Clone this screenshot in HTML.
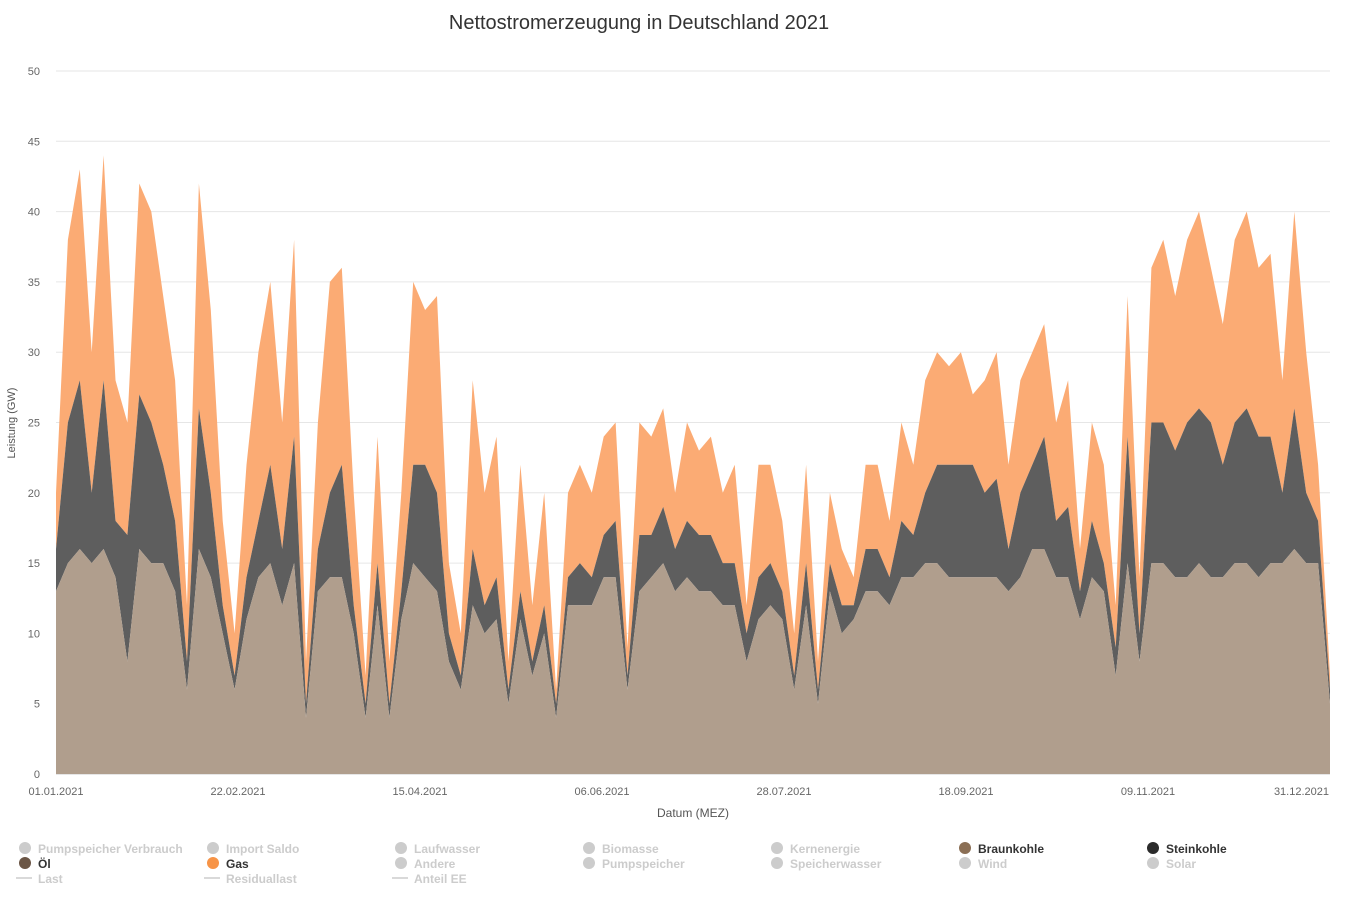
<!DOCTYPE html>
<html><head><meta charset="utf-8"><style>
body{margin:0;background:#fff;font-family:"Liberation Sans",sans-serif;}
svg text{font-family:"Liberation Sans",sans-serif;}
</style></head><body>
<svg id="chart" width="1353" height="905" xmlns="http://www.w3.org/2000/svg">
<text x="639" y="29" text-anchor="middle" font-size="20" fill="#333">Nettostromerzeugung in Deutschland 2021</text>
<g id="grid"></g><g id="areas"></g><g id="axes"></g><g id="legend"></g>
</svg>
<script>
const braun=[13,15,16,15,16,14,8,16,15,15,13,6,16,14,10,6,11,14,15,12,15,4,13,14,14,10,4,12,4,11,15,14,13,8,6,12,10,11,5,11,7,10,4,12,12,12,14,14,6,13,14,15,13,14,13,13,12,12,8,11,12,11,6,12,5,13,10,11,13,13,12,14,14,15,15,14,14,14,14,14,13,14,16,16,14,14,11,14,13,7,15,8,15,15,14,14,15,14,14,15,15,14,15,15,16,15,15,5];
const stein=[16,25,28,20,28,18,17,27,25,22,18,8,26,20,12,7,14,18,22,16,24,5,16,20,22,12,5,15,5,13,22,22,20,10,7,16,12,14,6,13,8,12,5,14,15,14,17,18,7,17,17,19,16,18,17,17,15,15,10,14,15,13,7,15,6,15,12,12,16,16,14,18,17,20,22,22,22,22,20,21,16,20,22,24,18,19,13,18,15,9,24,10,25,25,23,25,26,25,22,25,26,24,24,20,26,20,18,6];
const gas=[20,38,43,30,44,28,25,42,40,34,28,12,42,33,18,10,22,30,35,25,38,8,25,35,36,20,7,24,8,20,35,33,34,15,10,28,20,24,8,22,12,20,6,20,22,20,24,25,9,25,24,26,20,25,23,24,20,22,12,22,22,18,10,22,8,20,16,14,22,22,18,25,22,28,30,29,30,27,28,30,22,28,30,32,25,28,16,25,22,12,34,14,36,38,34,38,40,36,32,38,40,36,37,28,40,30,22,7];
const yTicks=[0,5,10,15,20,25,30,35,40,45,50];
const xLabels=["01.01.2021","22.02.2021","15.04.2021","06.06.2021","28.07.2021","18.09.2021","09.11.2021","31.12.2021"];
const xLabelDays=[0,52,104,156,208,260,312,364];
const NS="http://www.w3.org/2000/svg";
const X0=56,X1=1330,Y0=774,Y50=71;
const xs=d=>X0+(X1-X0)*d/364;
const ys=v=>Y0-(Y0-Y50)*v/50;
const dayOf=i=>i*364/(gas.length-1);
function mk(t,a,p){const e=document.createElementNS(NS,t);for(const k in a)e.setAttribute(k,a[k]);(p||document.getElementById('chart')).appendChild(e);return e;}
const grid=document.getElementById('grid');
yTicks.forEach(v=>{
 const l=mk('line',{x1:X0,x2:X1,y1:ys(v),y2:ys(v),stroke:v===0?'#ccc':'#e6e6e6'},grid);
 
 
 const t=mk('text',{x:40,y:ys(v)+4,'text-anchor':'end','font-size':11,fill:'#666'},grid);
 t.textContent=v;
 
 
});
const areas=document.getElementById('areas');
function area(top,bottom,color,name){
 let d='';
 top.forEach((v,i)=>{d+=(i?'L':'M')+xs(dayOf(i)).toFixed(1)+','+ys(v).toFixed(1);});
 for(let i=top.length-1;i>=0;i--){const b=bottom?bottom[i]:0;d+='L'+xs(dayOf(i)).toFixed(1)+','+ys(b).toFixed(1);}
 const p=mk('path',{d:d+'Z',fill:color},areas);
 
 
}
area(gas,stein,'#fbab74','area-gas');
area(stein,braun,'#5e5e5e','area-steinkohle');
area(braun,null,'#b09e8d','area-braunkohle');
const axes=document.getElementById('axes');
xLabels.forEach((s,i)=>{
 const last=i===xLabels.length-1;
 const t=mk('text',{x:last?X1-1:xs(xLabelDays[i]),y:795,'text-anchor':last?'end':'middle','font-size':11,fill:'#666'},axes);
 t.textContent=s;
 
 
});
const xt=mk('text',{x:693,y:817,'text-anchor':'middle','font-size':12,fill:'#555'},axes);
xt.textContent='Datum (MEZ)';


const yt=mk('text',{x:15,y:423,'text-anchor':'middle','font-size':11,fill:'#555',transform:'rotate(-90 15 423)'},axes);
yt.textContent='Leistung (GW)';


const legendItems=[
 ["Pumpspeicher Verbrauch",0,0,'#ccc',0,'c'],["Import Saldo",1,0,'#ccc',0,'c'],["Laufwasser",2,0,'#ccc',0,'c'],["Biomasse",3,0,'#ccc',0,'c'],["Kernenergie",4,0,'#ccc',0,'c'],["Braunkohle",5,0,'#8b6f55',1,'c'],["Steinkohle",6,0,'#2b2b2b',1,'c'],
 ["Öl",0,1,'#6b5646',1,'c'],["Gas",1,1,'#f79447',1,'c'],["Andere",2,1,'#ccc',0,'c'],["Pumpspeicher",3,1,'#ccc',0,'c'],["Speicherwasser",4,1,'#ccc',0,'c'],["Wind",5,1,'#ccc',0,'c'],["Solar",6,1,'#ccc',0,'c'],
 ["Last",0,2,'#ccc',0,'l'],["Residuallast",1,2,'#ccc',0,'l'],["Anteil EE",2,2,'#ccc',0,'l']];
const lg=document.getElementById('legend');
legendItems.forEach(it=>{
 const x=25+it[1]*188,y=848+it[2]*15;
 const g=mk('g',{},lg);
 
 
 if(it[5]==='c')mk('circle',{cx:x,cy:y,r:6,fill:it[3]},g);
 else mk('line',{x1:x-9,x2:x+7,y1:y,y2:y,stroke:'#ccc','stroke-width':1.5},g);
 const t=mk('text',{x:x+13,y:y+5,'font-size':12,'font-weight':'bold',fill:it[4]?'#333':'#ccc'},g);
 t.textContent=it[0];
});
</script>
</body></html>
